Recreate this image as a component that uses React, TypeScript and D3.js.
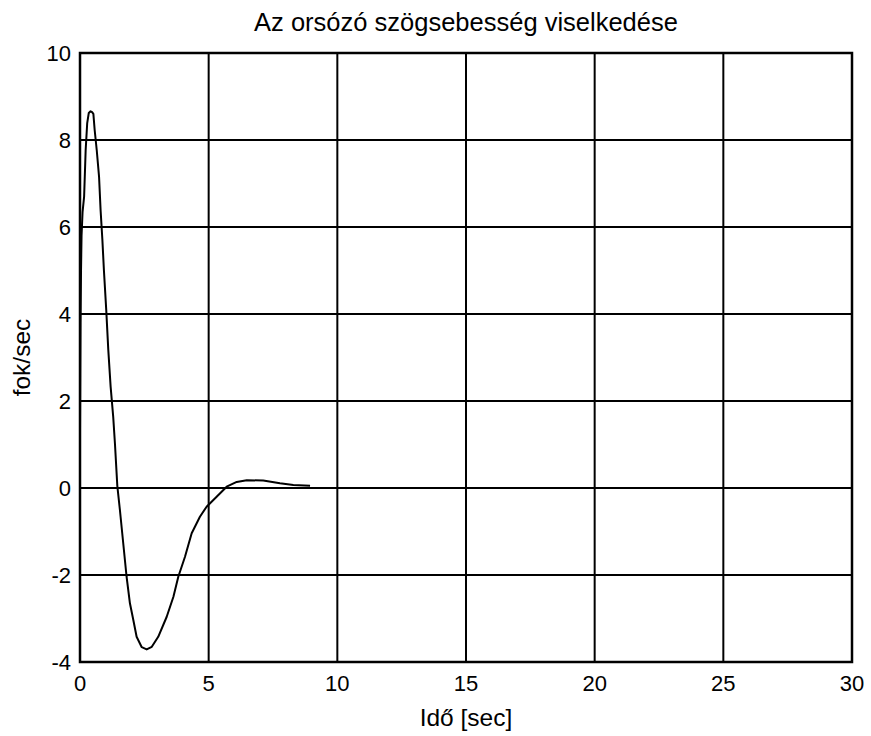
import React from "react";
import * as d3 from "d3";

// idő [sec]
const timeData = [
  0, 0.01, 0.02, 0.04, 0.06, 0.1, 0.16, 0.22, 0.28, 0.34, 0.41, 0.47, 0.52, 0.57, 0.65,
  0.74, 0.8, 0.87, 0.93, 1.02, 1.1, 1.19, 1.29, 1.36, 1.45, 1.55, 1.68, 1.81, 1.94,
  2.07, 2.2, 2.4, 2.59, 2.79, 3.04, 3.37, 3.63, 3.82, 4.08, 4.34, 4.66, 4.92, 5.31,
  5.7, 6.09, 6.48, 7.12, 7.77, 8.29, 8.94,
];
// szögsebesség [fok/sec]
const speedData = [
  1.3, 2.6, 3.8, 5.0, 5.8, 6.35, 6.7, 7.77, 8.39, 8.62, 8.66, 8.64, 8.6, 8.23, 7.77,
  7.16, 6.39, 5.7, 5.0, 4.09, 3.17, 2.33, 1.64, 1.0, 0.05, -0.5, -1.27, -2.04, -2.65,
  -3.03, -3.42, -3.66, -3.71, -3.65, -3.42, -2.96, -2.5, -2.04, -1.58, -1.04, -0.66,
  -0.43, -0.2, 0.03, 0.14, 0.18, 0.17, 0.11, 0.07, 0.05,
];
const xTicks = [0, 5, 10, 15, 20, 25, 30];
const yTicks = [-4, -2, 0, 2, 4, 6, 8, 10];

const W = 871;
const H = 736;
const margin = { left: 80, right: 19, top: 53, bottom: 74 };
const font = "Arial, 'Liberation Sans', sans-serif";

export default function App() {
  const x = d3.scaleLinear().domain([0, 30]).range([margin.left, W - margin.right]);
  const y = d3.scaleLinear().domain([-4, 10]).range([H - margin.bottom, margin.top]);

  const pts: [number, number][] = timeData.map((t, i) => [t, speedData[i]]);
  const line = d3
    .line<[number, number]>()
    .x((d) => x(d[0]))
    .y((d) => y(d[1]));

  const cx = (x(0) + x(30)) / 2;
  const cy = (y(-4) + y(10)) / 2;

  return (
    <svg
      width={W}
      height={H}
      style={{ position: "absolute", left: 0, top: 0, background: "#fff" }}
      fontFamily={font}
    >
      <rect x={0} y={0} width={W} height={H} fill="#fff" />
      {xTicks.map((t) => (
        <line key={"gx" + t} x1={x(t)} x2={x(t)} y1={y(-4)} y2={y(10)} stroke="#000" strokeWidth={2} />
      ))}
      {yTicks.map((t) => (
        <line key={"gy" + t} x1={x(0)} x2={x(30)} y1={y(t)} y2={y(t)} stroke="#000" strokeWidth={2} />
      ))}
      <rect
        x={x(0)}
        y={y(10)}
        width={x(30) - x(0)}
        height={y(-4) - y(10)}
        fill="none"
        stroke="#000"
        strokeWidth={2.5}
      />
      <path d={line(pts) || ""} fill="none" stroke="#000" strokeWidth={2} strokeLinejoin="round" />
      {xTicks.map((t) => (
        <text key={"tx" + t} x={x(t)} y={y(-4) + 29} textAnchor="middle" fontSize={22}>
          {t}
        </text>
      ))}
      {yTicks.map((t) => (
        <text key={"ty" + t} x={x(0) - 9} y={y(t) + 8} textAnchor="end" fontSize={22}>
          {t}
        </text>
      ))}
      <text x={cx} y={31} textAnchor="middle" fontSize={25.5}>
        Az orsózó szögsebesség viselkedése
      </text>
      <text x={cx} y={726} textAnchor="middle" fontSize={24.5}>
        Idő [sec]
      </text>
      <text transform={`translate(30,${cy}) rotate(-90)`} textAnchor="middle" fontSize={24.5}>
        fok/sec
      </text>
    </svg>
  );
}
